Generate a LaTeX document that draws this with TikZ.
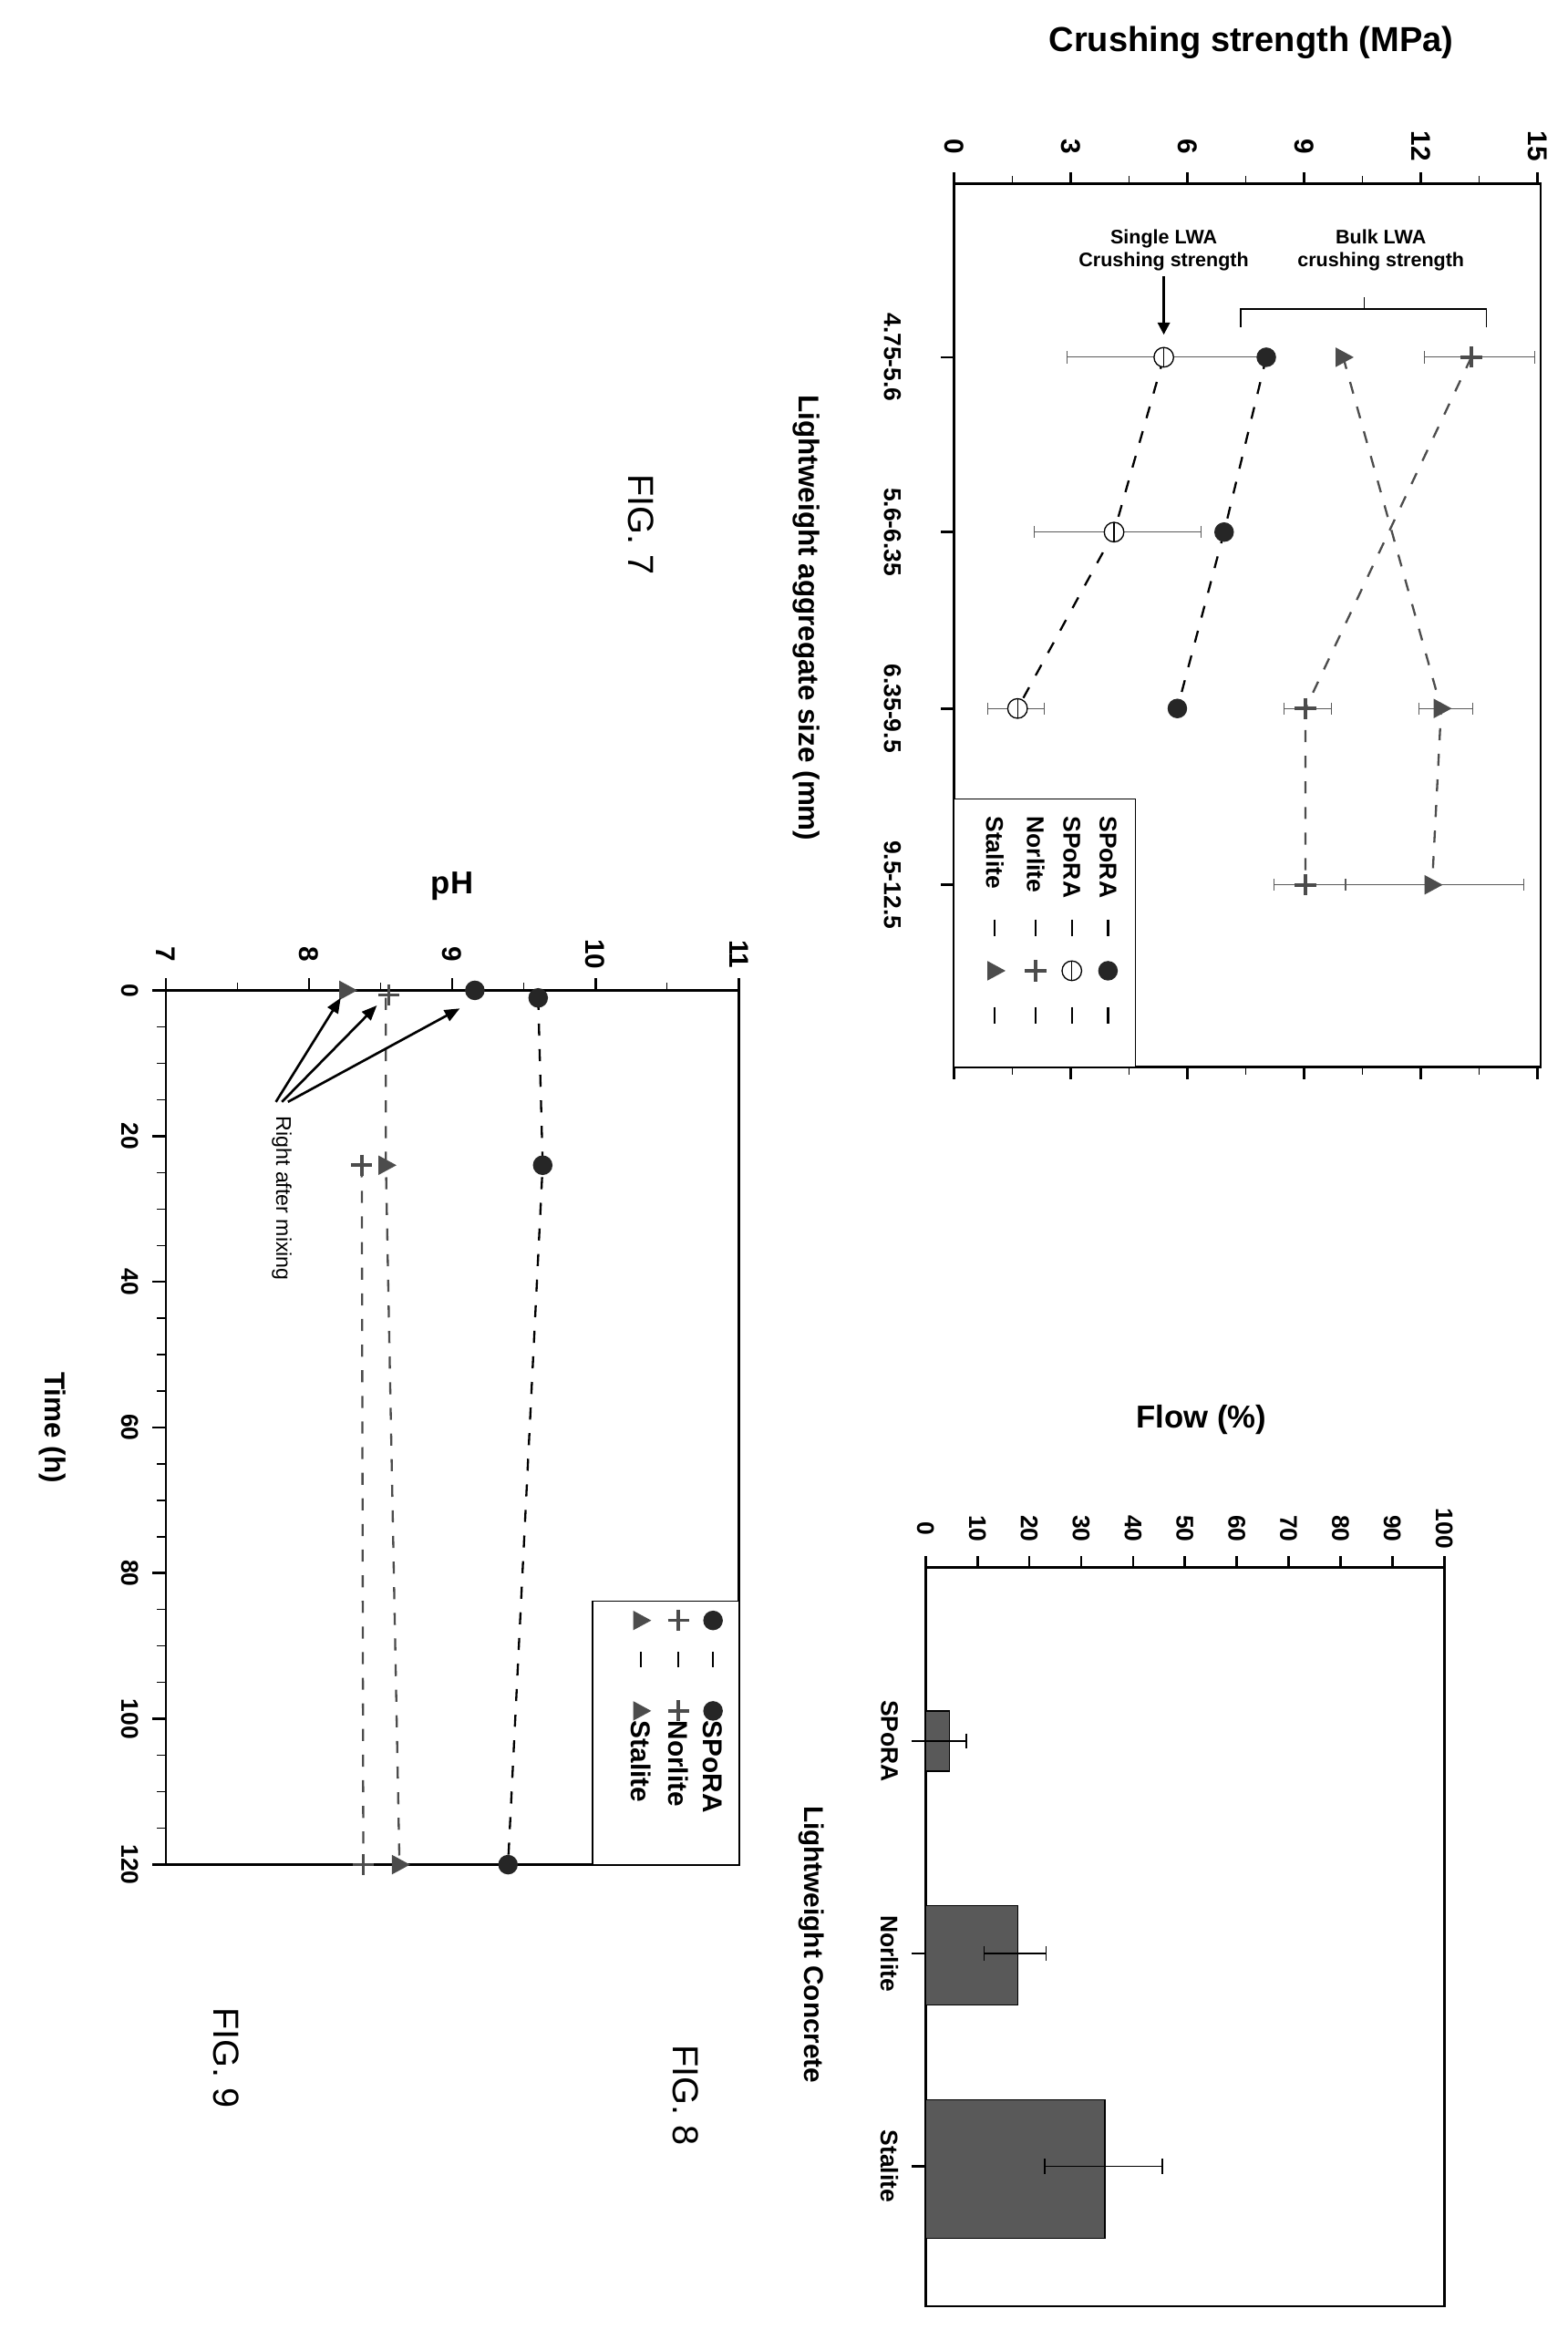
\documentclass[tikz,border=0pt]{standalone}
\usepackage{fontspec}
\setmainfont{Liberation Sans}
\usetikzlibrary{arrows.meta}
\begin{document}
\begin{tikzpicture}[x=1pt,y=-1pt,
  lab/.style={font=\bfseries\fontsize{16}{18}\selectfont,rotate=-90},
  tick/.style={font=\bfseries\fontsize{16}{18}\selectfont,rotate=-90},
  ttl/.style={font=\bfseries\fontsize{23}{25}\selectfont},
  fig/.style={font=\fontsize{24}{26}\selectfont,rotate=-90},
  dl/.style={line width=1.4pt,dash pattern=on 8pt off 9pt},
  eb/.style={line width=0.6pt,gray!70!black},
  fr/.style={line width=1.6pt}]
\useasboundingbox (0,0) rectangle (1040,1559);
\newcommand{\mfdot}[1]{\fill[black!85] #1 circle (6.5);}
\newcommand{\modot}[1]{\draw[thick,fill=white] #1 circle (6.5); \draw[thick] #1 ++(0,-6.5) -- ++(0,13);}
\newcommand{\mpls}[1]{\draw[line width=2.2pt,gray!60!black] #1 ++(-7,0) -- ++(14,0) #1 ++(0,-7) -- ++(0,14);}
\newcommand{\mtri}[1]{\fill[gray!60!black] #1 ++(7,0) -- ++(-12,-6.5) -- ++(0,13) -- cycle;}
\newcommand{\ebar}[3]{\draw[eb] (#1,#3) -- (#2,#3) (#1,#3-4) -- (#1,#3+4) (#2,#3-4) -- (#2,#3+4);}
% ================= FIG 7 =================
\node[ttl] (t7) at (830,28) {Crushing strength (MPa)};
\draw[fr] (633,122) rectangle (1022,708);
\foreach \v/\l in {0/0,3/3,6/6,9/9,12/12,15/15}{
  \draw[fr] (633+25.8*\v,122) -- (633+25.8*\v,114);
  \draw[fr] (633+25.8*\v,708) -- (633+25.8*\v,716);
  \node[tick,font=\bfseries\fontsize{18}{20}\selectfont] at (633+25.8*\v,97) {\l};}
\foreach \v in {1.5,4.5,7.5,10.5,13.5}{
  \draw[thick] (633+25.8*\v,122) -- (633+25.8*\v,117);
  \draw[thick] (633+25.8*\v,708) -- (633+25.8*\v,713);}
\foreach \y/\l in {237/4.75-5.6,353/5.6-6.35,470/6.35-9.5,587/9.5-12.5}{
  \draw[fr] (633,\y) -- (624,\y);
  \node[tick] at (592,\y) {\l};}
\node[lab,font=\bfseries\fontsize{19}{21}\selectfont] at (535,410) {Lightweight aggregate size (mm)};
\node[fig] at (425,348) {FIG. 7};
\ebar{708}{838}{237}\ebar{686}{797}{353}\ebar{655}{693}{470}
\ebar{945}{1018}{237}\ebar{852}{883}{470}\ebar{845}{892}{587}
\ebar{941}{977}{470}\ebar{893}{1011}{587}
\draw[dl] (840,237) -- (812,353) -- (781,470);
\draw[dl] (772,237) -- (739,353) -- (675,470);
\draw[dl,gray!60!black] (976,237) -- (866,470) -- (866,587);
\draw[dl,gray!60!black] (891,237) -- (956,470) -- (950,587);
\mfdot{(840,237)}\mfdot{(812,353)}\mfdot{(781,470)}
\modot{(772,237)}\modot{(739,353)}\modot{(675,470)}
\mpls{(976,237)}\mpls{(866,470)}\mpls{(866,587)}
\mtri{(891,237)}\mtri{(956,470)}\mtri{(950,587)}
\node[font=\bfseries\fontsize{13}{15}\selectfont,align=center] (sl) at (772,166) {Single LWA\\Crushing strength};
\coordinate (sa) at (772,222);
\draw[-{Triangle[length=8pt,width=8pt]},line width=1.6pt] (sl.south) -- (sa);
\node[font=\bfseries\fontsize{13}{15}\selectfont,align=center] (bl) at (916,166) {Bulk LWA\\crushing strength};
\draw[thick] (823,217) -- (823,205) -- (986,205) -- (986,217) (905,205) -- (905,197);
\draw[thick,fill=white] (633,530) rectangle (753,708);
\foreach \x/\l in {735/SPoRA,711/SPoRA,687/Norlite,660/Stalite}{
  \node[lab,anchor=west] at (\x,538) {\l};
  \draw[line width=1.3pt] (\x,610) -- (\x,621) (\x,668) -- (\x,679);}
\mfdot{(735,644)}\modot{(711,644)}\mpls{(687,644)}\mtri{(660,644)}
% ================= FIG 8 =================
\node[ttl,font=\bfseries\fontsize{21}{23}\selectfont] at (797,942) {Flow (\%)};
\draw[fr] (614,1040) rectangle (958,1530);
\foreach \v in {0,10,...,100}{
  \draw[fr] (614+3.44*\v,1040) -- (614+3.44*\v,1032);
  \node[tick] at (614+3.44*\v,1014) {\v};}
\foreach \y/\l in {1155/SPoRA,1296/Norlite,1437/Stalite}{
  \draw[fr] (614,\y) -- (605,\y);
  \node[tick] at (590,\y) {\l};}
\draw[thick,fill=black!65] (614,1135) rectangle (630,1175);
\draw[thick,fill=black!65] (614,1264) rectangle (675,1330);
\draw[thick,fill=black!65] (614,1393) rectangle (733,1485);
\draw[thick] (614,1155) -- (641,1155) (641,1150) -- (641,1160);
\draw[thick] (653,1296) -- (694,1296) (653,1291) -- (653,1301) (694,1291) -- (694,1301);
\draw[thick] (693,1437) -- (771,1437) (693,1432) -- (693,1442) (771,1432) -- (771,1442);
\node[lab,font=\bfseries\fontsize{18}{20}\selectfont] at (538,1290) {Lightweight Concrete};
\node[fig] at (455,1390) {FIG. 8};
% ================= FIG 9 =================
\node[ttl,font=\bfseries\fontsize{21}{23}\selectfont] at (300,588) {pH};
\draw[fr] (110,657) rectangle (490,1237);
\foreach \v in {7,8,9,10,11}{
  \draw[fr] (110+95*\v-665,657) -- (110+95*\v-665,649);
  \node[tick,font=\bfseries\fontsize{18}{20}\selectfont] at (110+95*\v-665,633) {\v};}
\foreach \v in {7.5,8.5,9.5,10.5}{\draw[thick] (110+95*\v-665,657) -- (110+95*\v-665,652);}
\foreach \t in {0,20,...,120}{
  \draw[fr] (110,657+4.833*\t) -- (101,657+4.833*\t);
  \node[tick] at (86,657+4.833*\t) {\t};}
\foreach \t in {5,10,...,115}{\draw[thick] (110,657+4.833*\t) -- (104,657+4.833*\t);}
\node[lab,font=\bfseries\fontsize{19}{21}\selectfont] at (35,947) {Time (h)};
\node[fig] at (150,1365) {FIG. 9};
\draw[dl] (357,662) -- (360,773) -- (337,1237);
\draw[dl,gray!60!black] (240,773) -- (241,1237);
\draw[dl,gray!60!black] (256,662) -- (256,773) -- (265,1237);
\mfdot{(315,657)}\mfdot{(357,662)}\mfdot{(360,773)}\mfdot{(337,1237)}
\mpls{(258,660)}\mpls{(240,773)}\mpls{(241,1237)}
\mtri{(230,657)}\mtri{(256,773)}\mtri{(265,1237)}
\node[font=\fontsize{14}{16}\selectfont,rotate=-90,anchor=west] (ram) at (187,737) {Right after mixing};
\coordinate (a1) at (226,662);\coordinate (a2) at (250,667);\coordinate (a3) at (305,669);
\foreach \c/\s in {a1/-4,a2/0,a3/4}{
  \draw[-{Triangle[length=10pt,width=8pt]},line width=1.6pt] ([xshift=\s pt]ram.west) ++(0,-6) -- (\c);}
\draw[thick,fill=white] (393,1062) rectangle (490,1237);
\foreach \x/\l in {473/SPoRA,450/Norlite,425/Stalite}{
  \node[lab,anchor=west,font=\bfseries\fontsize{18}{20}\selectfont] at (\x,1138) {\l};
  \draw[line width=1.3pt] (\x,1096) -- (\x,1106);}
\mfdot{(473,1075)}\mfdot{(473,1135)}
\mpls{(450,1075)}\mpls{(450,1135)}
\mtri{(425,1075)}\mtri{(425,1135)}
\end{tikzpicture}
\end{document}
